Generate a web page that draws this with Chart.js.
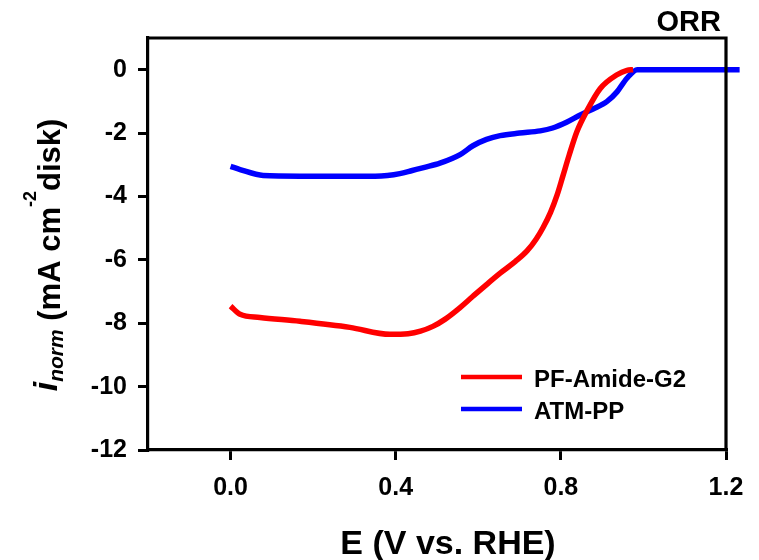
<!DOCTYPE html>
<html><head><meta charset="utf-8">
<script src="https://cdn.jsdelivr.net/npm/chart.js@4/dist/chart.umd.min.js"></script>
<style>html,body{margin:0;padding:0;background:#fff}#wrap{width:759px;height:560px}</style>
</head><body><div id="wrap"><canvas id="c" width="759" height="560"></canvas></div>
<script>
const seriesNames = ["PF-Amide-G2", "ATM-PP"];
const redE = [0.0, 0.023, 0.071, 0.168, 0.289, 0.386, 0.43, 0.46, 0.49, 0.52, 0.55, 0.587, 0.62, 0.653, 0.69, 0.718, 0.74, 0.757, 0.775, 0.791, 0.805, 0.82, 0.839, 0.863, 0.895, 0.936, 0.96, 0.975];
const redI = [-7.46, -7.72, -7.82, -7.94, -8.13, -8.35, -8.33, -8.25, -8.1, -7.87, -7.57, -7.15, -6.78, -6.42, -6.05, -5.72, -5.35, -4.98, -4.5, -3.95, -3.35, -2.7, -1.95, -1.3, -0.6, -0.16, -0.02, 0.0];
const blueE = [0.0, 0.023, 0.079, 0.168, 0.28, 0.35, 0.38, 0.41, 0.44, 0.47, 0.507, 0.556, 0.587, 0.62, 0.653, 0.70, 0.75, 0.78, 0.815, 0.847, 0.878, 0.912, 0.936, 0.96, 0.985, 1.1, 1.233];
const blueI = [-3.05, -3.15, -3.34, -3.36, -3.36, -3.36, -3.34, -3.28, -3.18, -3.08, -2.95, -2.68, -2.4, -2.2, -2.08, -2.0, -1.93, -1.84, -1.65, -1.43, -1.24, -1.0, -0.7, -0.27, 0.0, 0.0, 0.0];
const xTicks = [0.0, 0.4, 0.8, 1.2];
const yTicks = [-12, -10, -8, -6, -4, -2, 0];

const toPts = (xs, ys) => xs.map((x, i) => ({x: x, y: ys[i]}));
const F = "'Liberation Sans', Arial, sans-serif";

const extras = {
  id: 'extras',
  afterDraw(chart) {
    const ctx = chart.ctx, a = chart.chartArea;
    ctx.save();
    // frame top & right
    ctx.strokeStyle = '#000'; ctx.lineWidth = 3.2;
    ctx.beginPath();
    ctx.moveTo(a.left - 1.5, a.top); ctx.lineTo(a.right, a.top); ctx.lineTo(a.right, a.bottom);
    ctx.stroke();
    // ORR
    ctx.fillStyle = '#000';
    ctx.font = 'bold 29px ' + F;
    ctx.textAlign = 'right'; ctx.textBaseline = 'alphabetic';
    ctx.fillText('ORR', 721, 31);
    // legend
    const ds = chart.data.datasets;
    const ly = [377, 409];
    ctx.font = 'bold 24px ' + F; ctx.textAlign = 'left';
    ds.forEach((d, i) => {
      ctx.strokeStyle = d.borderColor; ctx.lineWidth = 4.5; ctx.lineCap = 'butt';
      ctx.beginPath(); ctx.moveTo(461, ly[i]); ctx.lineTo(522, ly[i]); ctx.stroke();
      ctx.fillStyle = '#000';
      ctx.fillText(d.label, 534, ly[i] + 10);
    });
    // x title
    ctx.font = 'bold 34px ' + F; ctx.textAlign = 'center';
    ctx.fillText('E (V vs. RHE)', 448, 554);
    // y title
    const parts = [
      {t: 'i', f: 'italic bold 34px ' + F, dy: -3},
      {t: 'norm', f: 'italic bold 21px ' + F, dy: 3},
      {t: ' (mA cm', f: 'bold 31px ' + F, dy: 0},
      {t: '-2', f: 'bold 18px ' + F, dy: -24},
      {t: 'disk)', f: 'bold 31px ' + F, dy: 0}
    ];
    let total = 0;
    parts.forEach(p => { ctx.font = p.f; p.w = ctx.measureText(p.t).width; total += p.w; });
    ctx.translate(60, 255); ctx.rotate(-Math.PI / 2);
    ctx.textAlign = 'left'; ctx.textBaseline = 'alphabetic';
    let x = -total / 2;
    parts.forEach(p => { ctx.font = p.f; ctx.fillText(p.t, x, p.dy); x += p.w; });
    ctx.restore();
  }
};

new Chart(document.getElementById('c'), {
  type: 'scatter',
  data: {
    datasets: [
      {label: seriesNames[0], data: toPts(redE, redI), borderColor: '#ff0000', backgroundColor: '#ff0000', showLine: true, borderWidth: 5.5, pointRadius: 0, cubicInterpolationMode: 'monotone', clip: false},
      {label: seriesNames[1], data: toPts(blueE, blueI), borderColor: '#0000ff', backgroundColor: '#0000ff', showLine: true, borderWidth: 5.5, pointRadius: 0, cubicInterpolationMode: 'monotone', clip: false}
    ]
  },
  options: {
    responsive: false, animation: false, devicePixelRatio: 1,
    layout: {padding: {left: 0, right: 33, top: 38, bottom: 0}},
    plugins: {legend: {display: false}, tooltip: {enabled: false}},
    scales: {
      x: {
        type: 'linear', min: -0.2, max: 1.2,
        afterBuildTicks: s => { s.ticks = xTicks.map(v => ({value: v})); },
        afterFit: s => { s.height = 110; },
        grid: {drawOnChartArea: false, drawTicks: true, tickLength: 10, color: '#000', lineWidth: 3},
        border: {display: true, color: '#000', width: 3.2},
        ticks: {color: '#000', font: {family: F, size: 25, weight: 'bold'}, padding: 13, maxRotation: 0,
          callback: v => Number(v).toFixed(1)}
      },
      y: {
        type: 'linear', min: -12, max: 1,
        afterBuildTicks: s => { s.ticks = yTicks.map(v => ({value: v})); },
        afterFit: s => { s.width = 148; },
        grid: {drawOnChartArea: false, drawTicks: true, tickLength: 10, color: '#000', lineWidth: 3},
        border: {display: true, color: '#000', width: 3.2},
        ticks: {color: '#000', font: {family: F, size: 25, weight: 'bold'}, padding: 11,
          callback: v => String(v)}
      }
    }
  },
  plugins: [extras]
});
</script></body></html>
